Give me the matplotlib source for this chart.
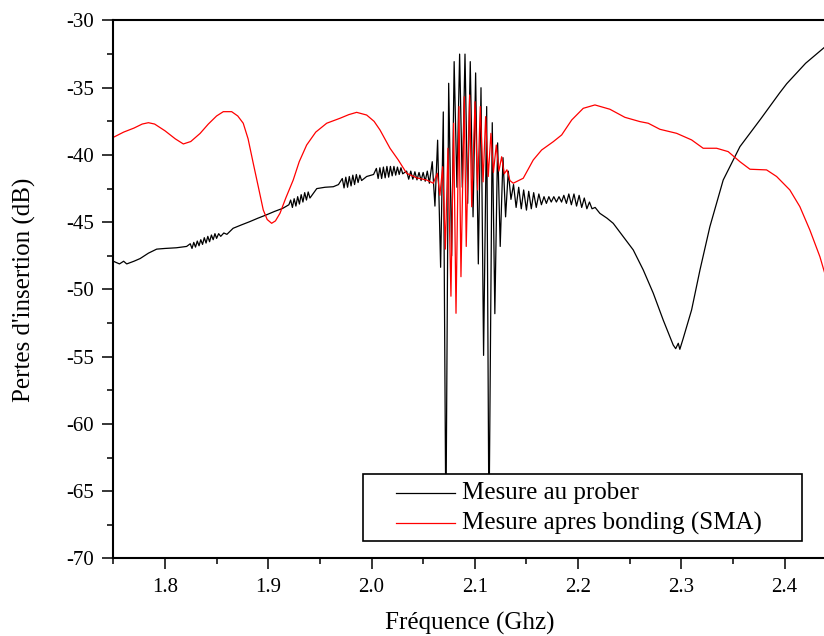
import matplotlib
matplotlib.use('Agg')
import matplotlib.pyplot as plt
import matplotlib.patches as patches
from matplotlib.ticker import MultipleLocator

# Mesure au prober (courbe noire) - frequence en GHz, pertes en dB
prober_freq = [
    1.750, 1.756, 1.760, 1.763, 1.770, 1.776, 1.784, 1.792, 1.800, 1.811, 1.821,
    1.8245, 1.8262, 1.8279, 1.8296, 1.8313, 1.8330, 1.8347, 1.8364, 1.8381, 1.8398,
    1.8415, 1.8432, 1.8450, 1.8467, 1.8484, 1.8500, 1.8520, 1.8540, 1.8570, 1.8600,
    1.866, 1.874, 1.882, 1.890, 1.898, 1.906, 1.914, 1.920,
    1.9217, 1.9234, 1.9251, 1.9268, 1.9285, 1.9302, 1.9319, 1.9336, 1.9353, 1.9370,
    1.9387, 1.9404, 1.947, 1.955, 1.963, 1.968,
    1.9717, 1.9734, 1.9751, 1.9768, 1.9785, 1.9802, 1.9819, 1.9836, 1.9853, 1.9870,
    1.9887, 1.9904, 1.9953, 2.0020,
    2.0047, 2.0064, 2.0081, 2.0098, 2.0115, 2.0132, 2.0149, 2.0166, 2.0183, 2.0200,
    2.0217, 2.0234, 2.0251, 2.0268, 2.0285, 2.0302,
    2.034, 2.036, 2.038, 2.040, 2.042, 2.044, 2.046, 2.048, 2.050, 2.052, 2.054, 2.056,
    2.0588, 2.0614, 2.0640, 2.0669, 2.0695, 2.0720, 2.0747, 2.0776, 2.0800, 2.0827,
    2.0853, 2.0879, 2.0905, 2.0931, 2.0956, 2.0983, 2.1008, 2.1034, 2.1060, 2.1085,
    2.1115, 2.1137, 2.1169, 2.1194, 2.1221, 2.1246, 2.1273, 2.1298, 2.1324, 2.1350,
    2.1375, 2.1400, 2.1425, 2.1450, 2.1473, 2.1500, 2.1522, 2.1547, 2.1570, 2.1595,
    2.1620, 2.1645, 2.1670, 2.1693, 2.1717, 2.1740, 2.1765, 2.1790, 2.1815, 2.1840,
    2.1862, 2.1887, 2.1910, 2.1935, 2.1960, 2.1985, 2.2010, 2.2035, 2.2060, 2.2085,
    2.2110, 2.2135, 2.2165, 2.2211,
    2.228, 2.234, 2.2437, 2.2534, 2.2631, 2.2728, 2.2824, 2.2921, 2.2945, 2.2970,
    2.2985, 2.3018, 2.3099, 2.3180, 2.3276, 2.3405, 2.3567, 2.3770, 2.3950, 2.4020,
    2.4203, 2.4400,
]
prober_loss = [
    -47.9, -48.1, -47.9, -48.1, -47.9, -47.7, -47.3, -47.0, -46.95, -46.9, -46.8,
    -46.6, -46.95, -46.5, -46.85, -46.4, -46.75, -46.3, -46.65, -46.15, -46.55,
    -46.05, -46.45, -45.95, -46.3, -45.85, -46.2, -45.85, -46.05, -45.8, -45.9,
    -45.45, -45.2, -44.96, -44.7, -44.46, -44.2, -43.97, -43.7,
    -43.35, -43.9, -43.25, -43.8, -43.1, -43.65, -42.95, -43.5, -42.8, -43.35,
    -42.75, -43.2, -42.5, -42.4, -42.36, -42.2,
    -41.75, -42.45, -41.65, -42.4, -41.6, -42.3, -41.5, -42.2, -41.45, -42.05,
    -41.5, -41.9, -41.6, -41.45,
    -41.0, -41.75, -40.95, -41.75, -40.9, -41.7, -40.85, -41.65, -40.85, -41.55,
    -40.85, -41.5, -40.9, -41.45, -40.95, -41.4,
    -41.2, -41.8, -41.2, -41.8, -41.25, -41.85, -41.3, -41.9, -41.3, -41.95, -41.2, -42.1,
    -40.5, -43.8, -38.9, -48.35, -36.8, -68.0, -34.67, -47.5, -33.06, -42.4,
    -32.5, -42.4, -32.5, -43.6, -33.06, -44.6, -33.9, -48.1, -35.0, -54.9,
    -36.4, -68.0, -37.6, -51.8, -39.1, -46.8, -40.2, -44.6, -41.2, -43.3,
    -42.2, -43.9, -42.4, -44.0, -42.6, -44.1, -42.7, -44.0, -42.8, -43.9,
    -42.9, -43.7, -43.1, -43.6, -43.1, -43.5, -43.1, -43.5, -43.1, -43.5,
    -43.0, -43.6, -42.9, -43.7, -42.9, -43.8, -43.0, -43.9, -43.2, -44.0,
    -43.5, -44.0, -43.9, -44.34,
    -44.7, -45.08, -46.07, -47.06, -48.55, -50.28, -52.27, -54.13, -54.4, -54.0,
    -54.45, -53.63, -51.52, -48.55, -45.33, -41.86, -39.38, -37.3, -35.4, -34.7,
    -33.18, -31.9,
]

# Mesure apres bonding (SMA) (courbe rouge)
sma_freq = [
    1.750, 1.760, 1.770, 1.778, 1.784, 1.790, 1.800, 1.810, 1.8178, 1.825,
    1.834, 1.842, 1.850, 1.8565, 1.8646, 1.8705, 1.8758, 1.8805, 1.8855, 1.8905,
    1.8952, 1.899, 1.9033, 1.907, 1.9114, 1.917, 1.9242, 1.930, 1.9372, 1.946,
    1.9566, 1.9695, 1.978, 1.9856, 1.9953, 2.0025, 2.0082, 2.0179, 2.0259, 2.034,
    2.0437, 2.0534, 2.0598,
    2.0637, 2.0662, 2.0689, 2.0715, 2.0740, 2.0769, 2.0795, 2.0818, 2.0847, 2.0866,
    2.0898, 2.0917, 2.0950, 2.0970, 2.1002, 2.1027, 2.1053, 2.1080, 2.1105, 2.1130,
    2.1156, 2.1180, 2.1208, 2.1233, 2.1260, 2.1285, 2.1311, 2.1340,
    2.1372, 2.1469, 2.1566, 2.1647, 2.1760, 2.1841, 2.1938, 2.2050, 2.2163, 2.2308,
    2.2453, 2.2599, 2.2679, 2.2792, 2.2954, 2.3099, 2.3211, 2.3341, 2.3453, 2.3567,
    2.3664, 2.3825, 2.3922, 2.4050, 2.4147, 2.4244, 2.4341, 2.4400,
]
sma_loss = [
    -38.69, -38.3, -38.0, -37.7, -37.6, -37.7, -38.2, -38.8, -39.18, -39.0,
    -38.4, -37.7, -37.1, -36.78, -36.78, -37.1, -37.64, -38.8, -40.62, -42.4,
    -44.09, -44.8, -45.08, -44.9, -44.33, -43.2, -41.86, -40.5, -39.26, -38.3,
    -37.64, -37.27, -37.0, -36.83, -37.03, -37.5, -38.14, -39.5, -40.37, -41.36,
    -41.7, -41.86, -42.1,
    -41.36, -43.0, -40.87, -47.0, -39.5, -50.5, -37.64, -51.77, -36.4, -49.05,
    -35.67, -46.8, -35.54, -43.85, -36.04, -42.6, -36.4, -42.0, -37.15, -41.6,
    -38.39, -41.3, -39.26, -41.2, -40.13, -41.4, -41.1, -41.9,
    -42.1, -41.73, -40.37, -39.63, -39.01, -38.51, -37.4, -36.53, -36.28, -36.6,
    -37.2, -37.52, -37.64, -38.09, -38.39, -38.88, -39.5, -39.5, -39.75, -40.5,
    -41.06, -41.11, -41.6, -42.6, -43.84, -45.58, -47.56, -49.1,
]

legend_labels = ['Mesure au prober', 'Mesure apres bonding (SMA)']

plt.rcParams['font.family'] = 'serif'
plt.rcParams['font.serif'] = ['Liberation Serif', 'DejaVu Serif']
plt.rcParams['axes.unicode_minus'] = False

fig = plt.figure(figsize=(8.24, 6.36), dpi=100)
ax = fig.add_axes([0.1375, 0.1219, 0.8649, 0.8459])

ax.plot(prober_freq, prober_loss, color='black', linewidth=0.9)
ax.plot(sma_freq, sma_loss, color='red', linewidth=0.9)

ax.set_xlim(1.75, 2.44)
ax.set_ylim(-70, -30)
ax.xaxis.set_major_locator(MultipleLocator(0.1))
ax.xaxis.set_minor_locator(MultipleLocator(0.05))
ax.yaxis.set_major_locator(MultipleLocator(5))
ax.yaxis.set_minor_locator(MultipleLocator(2.5))
ax.xaxis.set_major_formatter(plt.FuncFormatter(lambda v, p: f"{v:.1f}"))
ax.yaxis.set_major_formatter(plt.FuncFormatter(lambda v, p: f"{v:.0f}"))

ax.tick_params(which='major', direction='out', length=8, width=1.1, labelsize=15, pad=6)
ax.tick_params(which='minor', direction='out', length=4, width=1.1)
for s in ax.spines.values():
    s.set_linewidth(1.5)

ax.set_xlabel('Fréquence (Ghz)', fontsize=18)
ax.set_ylabel("Pertes d'insertion (dB)", fontsize=18)
ax.xaxis.set_label_coords(0.5, -0.099)
ax.yaxis.set_label_coords(-0.108, 0.5)

# legende dessinee a la main (cadre + traits + textes)
ax.add_patch(patches.Rectangle((0.3504, 0.0325), 0.6159, 0.1246, transform=ax.transAxes,
                               facecolor='white', edgecolor='black', linewidth=1.2, zorder=5))
for yy, col, lab in [(0.1217, 'black', legend_labels[0]), (0.066, 'red', legend_labels[1])]:
    ax.plot([0.3967, 0.4794], [yy, yy], color=col, linewidth=0.9, transform=ax.transAxes, zorder=6)
    ax.text(0.4893, yy, lab, fontsize=18, va='center', ha='left', transform=ax.transAxes, zorder=6)

fig.savefig('out.png', dpi=100)
